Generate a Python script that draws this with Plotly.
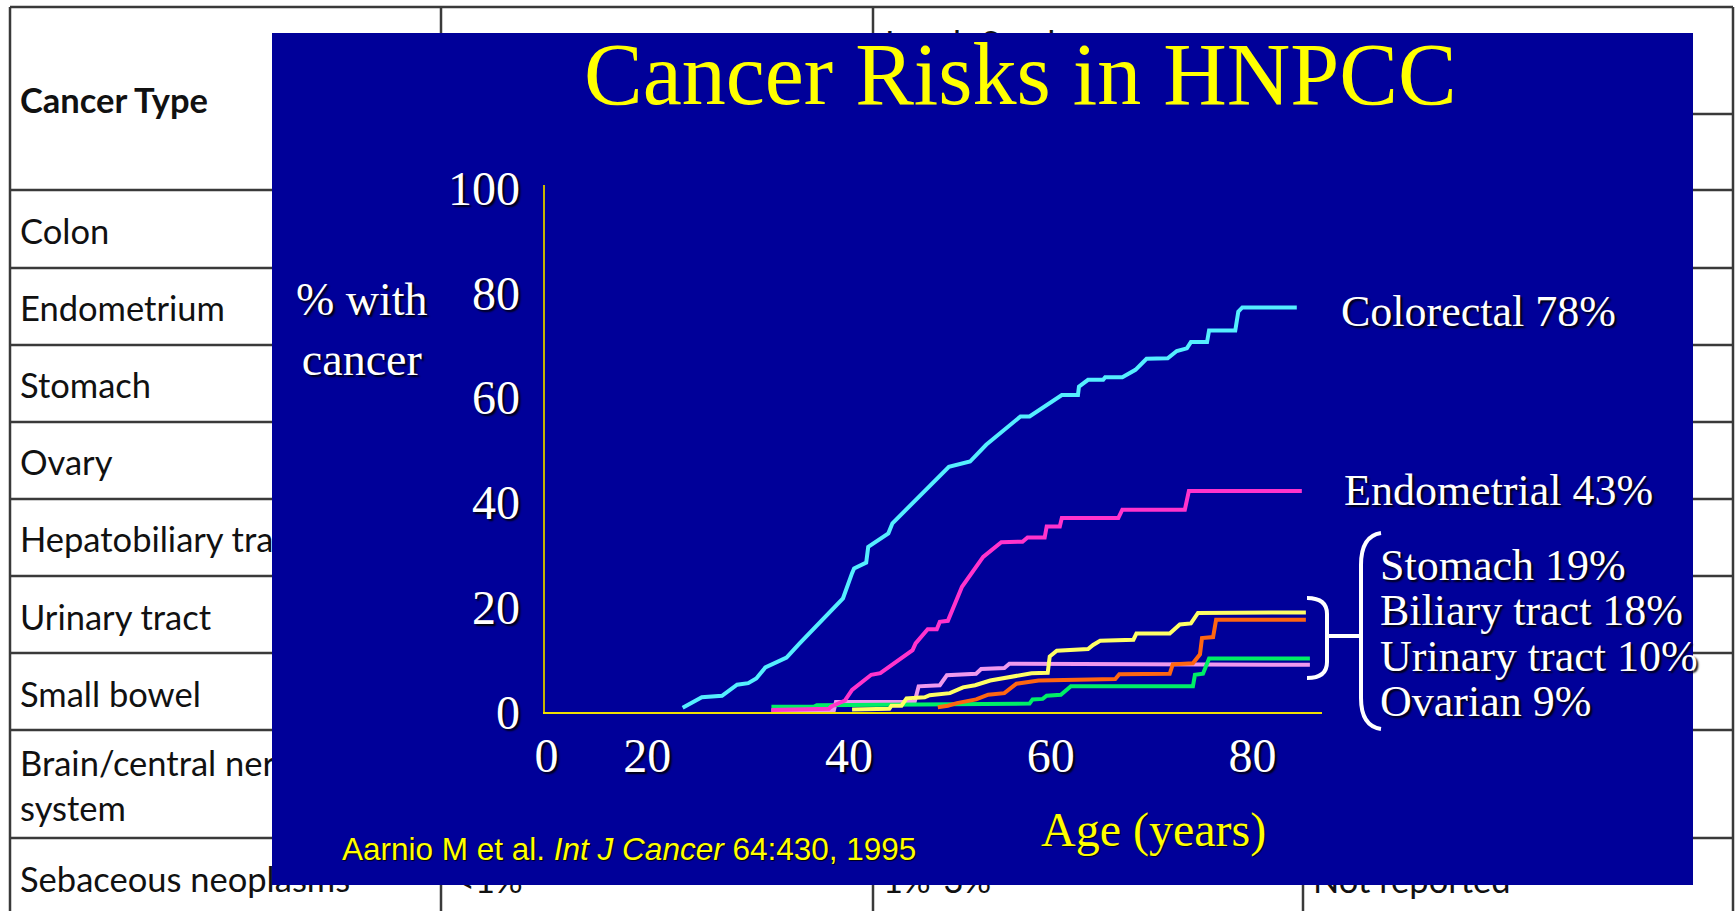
import plotly.graph_objects as go

W, H = 1735, 911

# ---------------- chart data: age (years) vs cumulative % with cancer ----------------
colorectal_age = [23.5, 25.4, 27.4, 28.9, 30.0, 30.8, 31.7, 33.8, 35.1, 39.4, 40.3, 40.5, 41.7, 41.9,
                  43.9, 44.3, 49.9, 52.0, 53.6, 57.0, 57.9, 61.1, 62.7, 62.8, 63.7, 65.2, 65.4, 67.1,
                  68.4, 69.5, 71.6, 72.5, 73.5, 73.9, 75.5, 75.7, 78.3, 78.6, 79.0, 84.4]
colorectal_pct = [0.8, 2.8, 3.1, 5.2, 5.5, 6.4, 8.5, 10.4, 13.1, 21.7, 26.5, 27.4, 28.5, 31.5,
                  34.1, 36.0, 46.8, 47.8, 51.0, 56.4, 56.4, 60.5, 60.5, 62.1, 63.4, 63.4, 63.9, 63.9,
                  65.3, 67.4, 67.5, 68.9, 69.4, 70.6, 70.6, 72.8, 72.8, 76.4, 77.2, 77.2]

endometrial_age = [32.3, 38.0, 38.2, 39.6, 40.3, 42.2, 43.1, 46.3, 46.6, 47.8, 48.7, 49.0, 49.8, 51.2,
                   53.3, 55.1, 57.2, 57.7, 59.4, 59.6, 60.9, 61.1, 66.7, 67.1, 73.3, 73.7, 84.9]
endometrial_pct = [0.4, 0.6, 1.0, 2.2, 4.2, 7.1, 7.4, 11.8, 13.1, 15.8, 15.8, 17.2, 17.4, 23.9,
                   29.6, 32.4, 32.5, 33.3, 33.3, 35.4, 35.4, 37.0, 37.0, 38.6, 38.6, 42.2, 42.2]

stomach_age = [40.3, 44.0, 44.2, 45.2, 45.7, 47.5, 48.0, 50.0, 51.3, 52.5, 54.0, 54.6, 56.3, 58.1,
               59.7, 59.9, 60.6, 63.7, 64.2, 64.9, 68.2, 68.5, 71.8, 72.8, 73.9, 74.6, 85.3]
stomach_pct = [0.5, 0.6, 1.2, 1.2, 2.6, 2.8, 3.2, 3.6, 4.7, 5.1, 6.0, 6.2, 6.7, 7.4,
               7.5, 10.6, 11.7, 12.0, 12.8, 13.6, 13.8, 15.0, 15.0, 16.7, 16.9, 18.9, 19.0]

biliary_age = [48.8, 49.8, 50.7, 52.6, 53.8, 55.4, 56.6, 58.2, 58.8, 66.4, 66.8, 71.8, 72.1, 74.1,
               74.8, 75.0, 76.1, 76.4, 85.3]
biliary_pct = [0.9, 1.2, 1.7, 2.4, 3.3, 3.6, 5.4, 5.7, 6.0, 6.3, 7.2, 7.3, 9.1, 9.3,
               11.0, 14.1, 14.3, 17.6, 17.6]

urinary_age = [32.3, 36.5, 36.8, 45.0, 57.9, 58.2, 59.2, 59.6, 61.0, 62.0, 74.1, 74.3, 75.1, 75.7, 85.7]
urinary_pct = [1.0, 1.0, 1.3, 1.4, 1.6, 2.4, 2.5, 3.1, 3.3, 4.9, 4.9, 7.1, 7.3, 10.2, 10.2]

ovarian_age = [32.3, 38.5, 38.7, 46.5, 46.7, 46.9, 49.0, 49.7, 52.6, 53.1, 55.4, 55.9, 85.7]
ovarian_pct = [0.3, 0.4, 1.9, 1.9, 3.4, 4.9, 5.1, 7.0, 7.3, 8.2, 8.4, 9.2, 9.0]

x_tick_vals = [10, 20, 40, 60, 80]
x_tick_text = ["0", "20", "40", "60", "80"]
y_tick_vals = [0, 20, 40, 60, 80, 100]

series_labels = ["Colorectal 78%", "Endometrial 43%"]
group_labels = ["Stomach 19%", "Biliary tract 18%", "Urinary tract 10%", "Ovarian 9%"]

# ---------------- background table (document) ----------------
table_header = "Cancer Type"
table_col3_header = "Lynch Syndrome"
table_rows = ["Colon", "Endometrium", "Stomach", "Ovary", "Hepatobiliary tract", "Urinary tract",
              "Small bowel", "Brain/central nervous<br>system", "Sebaceous neoplasms"]
last_row_cells = ["<1%", "1%-3%", "Not reported"]

# ---------------- layout geometry (pixels) ----------------
def px(x, y):
    return x / W, 1 - y / H

BLUE = "#000099"
SERIF = "Liberation Serif"
SHADOW = "2px 2px 2px rgba(0,0,0,0.95)"

fig = go.Figure()

# table lines
LINE_C = "#3a3a3a"
shapes = []
def seg(x0, y0, x1, y1, w=2.5):
    shapes.append(dict(type="line", xref="x", yref="y", x0=x0, y0=y0, x1=x1, y1=y1,
                       line=dict(color=LINE_C, width=w), layer="below"))

seg(10, 7, 1733, 7)
seg(10, 7, 10, H)
seg(1733, 7, 1733, H)
seg(441, 7, 441, H)
seg(873, 7, 873, H)
seg(1303, 114, 1303, H)
seg(873, 114, 1733, 114)
for yy in [190, 268, 345, 422, 499, 576, 653, 730, 838]:
    seg(10, yy, 1733, yy)

row_y = [235, 312, 389, 466, 543, 621, 698, 790, 883]
fig.add_trace(go.Scatter(
    x=[20] + [20] * len(table_rows) + [455, 883, 1313] + [885],
    y=[104] + row_y + [884, 884, 884] + [47],
    text=["<b>" + table_header + "</b>"] + table_rows + last_row_cells + [table_col3_header],
    mode="text", textposition="middle right",
    textfont=dict(family="Lato", size=34.5, color="#111111"),
    hoverinfo="skip", showlegend=False, xaxis="x", yaxis="y"))

# slide background (covers part of the table)
fig.add_trace(go.Scatter(
    x=[272, 1693, 1693, 272, 272], y=[33, 33, 885, 885, 33],
    mode="lines", fill="toself", fillcolor=BLUE, line=dict(width=0, color=BLUE),
    hoverinfo="skip", showlegend=False, xaxis="x", yaxis="y"))

# curves
curves = [
    ("Ovarian", ovarian_age, ovarian_pct, "#ee99ee"),
    ("Urinary tract", urinary_age, urinary_pct, "#00ee66"),
    ("Biliary tract", biliary_age, biliary_pct, "#ff6611"),
    ("Stomach", stomach_age, stomach_pct, "#ffff66"),
    ("Endometrial", endometrial_age, endometrial_pct, "#ff33cc"),
    ("Colorectal", colorectal_age, colorectal_pct, "#55eeff"),
]
for name, xs, ys, col in curves:
    fig.add_trace(go.Scatter(x=xs, y=ys, mode="lines", name=name,
                             line=dict(color=col, width=4), showlegend=False,
                             xaxis="x2", yaxis="y2"))

# axes domain
x_lo, x_hi = 9.8, 86.9
y_lo, y_hi = 0, 100.6
ax_left, ax_right = 544.5, 1322
ax_bottom, ax_top = 712, 712 - 5.24 * y_hi

tickfont = dict(family=SERIF, size=48, color="white", shadow=SHADOW)

fig.update_layout(
    template="none",
    width=W, height=H, autosize=False,
    margin=dict(l=0, r=0, t=0, b=0, pad=0, autoexpand=False),
    paper_bgcolor="white", plot_bgcolor="rgba(0,0,0,0)",
    showlegend=False,
    xaxis=dict(domain=[0, 1], range=[0, W], visible=False, fixedrange=True, automargin=False),
    yaxis=dict(domain=[0, 1], range=[H, 0], visible=False, fixedrange=True, automargin=False),
    xaxis2=dict(domain=[ax_left / W, ax_right / W], range=[x_lo, x_hi], anchor="y2",
                tickvals=x_tick_vals, ticktext=x_tick_text, showgrid=False, zeroline=False,
                showline=True, linecolor="#f0e000", linewidth=2, ticks="", automargin=False,
                ticklabelstandoff=0, tickfont=tickfont),
    yaxis2=dict(domain=[1 - ax_bottom / H, 1 - ax_top / H], range=[y_lo, y_hi], anchor="x2",
                tickvals=y_tick_vals, showgrid=False, zeroline=False, automargin=False,
                showline=True, linecolor="#c8b400", linewidth=1.6, ticks="",
                ticklabelstandoff=13, tickfont=tickfont),
    shapes=shapes,
)

# bracket shapes (white)
BR = dict(color="white", width=4)
fig.add_shape(type="path", xref="x", yref="y", layer="above", line=BR,
              path="M 1381 533 Q 1361 536 1361 565 L 1361 698 Q 1361 726 1381 729")
fig.add_shape(type="path", xref="x", yref="y", layer="above", line=BR,
              path="M 1307 598 Q 1327 598 1327 614 L 1327 662 Q 1327 678 1307 678")
fig.add_shape(type="line", xref="x", yref="y", layer="above", line=BR,
              x0=1327, y0=636, x1=1361, y1=636)

ann = []
def text(x, y, s, size, color, family=SERIF, xanchor="left", shadow=None, **kw):
    xp, yp = px(x, y)
    f = dict(family=family, size=size, color=color)
    if shadow:
        f["shadow"] = shadow
    ann.append(dict(x=xp, y=yp, xref="paper", yref="paper", text=s, showarrow=False,
                    xanchor=xanchor, yanchor="middle", font=f, **kw))

text(1020, 75, "Cancer Risks in HNPCC", 88, "#ffff00", xanchor="center")
text(362, 329, "% with<br>cancer", 46, "white", xanchor="center", shadow=SHADOW)
text(1153, 830, "Age (years)", 48, "#ffff00", xanchor="center", shadow="1px 1px 1px rgba(0,0,0,0.8)")
text(340, 849, "Aarnio M et al. <i>Int J Cancer</i> 64:430, 1995", 31.5, "#ffff00",
     family="Liberation Sans", shadow="1px 1px 1px rgba(0,0,0,0.9)")
text(1339, 312, series_labels[0], 44, "white", shadow=SHADOW)
text(1342, 490, series_labels[1], 44, "white", shadow=SHADOW)
for lbl, yy in zip(group_labels, [565, 610, 656, 701]):
    text(1378, yy, lbl, 44, "white", shadow=SHADOW)

fig.update_layout(annotations=ann)

fig.write_html("out.html", config={"displayModeBar": False},
               post_script="document.body.style.margin='0';document.body.style.overflow='hidden';")
